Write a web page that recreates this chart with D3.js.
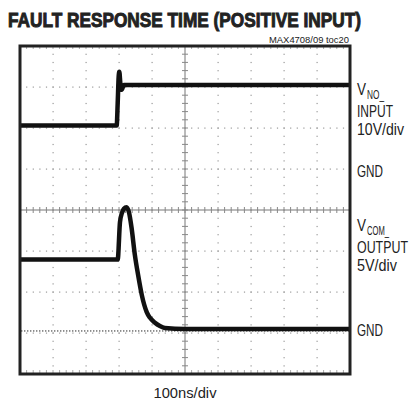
<!DOCTYPE html>
<html>
<head>
<meta charset="utf-8">
<script src="https://cdn.jsdelivr.net/npm/d3@7"></script>
<style>
  body { margin: 0; background: #fff; }
  text { font-family: "Liberation Sans", Arial, sans-serif; fill: #222; }
</style>
</head>
<body>
<div id="chart"></div>
<script>
// scope settings
var timePerDiv = 100;          // ns/div
var ch1VoltsPerDiv = 10;       // V/div
var ch2VoltsPerDiv = 5;        // V/div
var ch1Ground = 1;             // divisions from centre
var ch2Ground = -2.95;

// channel 1: V_NO_ input (time ns, volts)
var ch1Time = [0, 293, 296, 299, 301, 304, 308, 315, 1000];
var ch1Volts = [10.6, 10.6, 16, 22.5, 23.7, 21, 19.3, 20.5, 20.5];

// channel 2: V_COM_ output
var ch2Time = [0, 296, 303, 309, 315, 323, 330, 338, 348, 358, 369, 384, 394, 409, 424, 439, 500, 1000];
var ch2Volts = [8.7, 8.7, 13.3, 14.4, 14.9, 15.1, 14.5, 12.6, 9.3, 6.8, 4.4, 2.3, 1.6, 1.0, 0.6, 0.37, 0.24, 0.24];

var svgWidth = 409;
var svgHeight = 406;

var plot = { left: 20, top: 46, right: 350, bottom: 374 };

var svg = d3.select("#chart")
    .append("svg")
    .attr("width", svgWidth)
    .attr("height", svgHeight);

// scales: x in ns, y in divisions
var xScale = d3.scaleLinear().domain([0, 10 * timePerDiv]).range([plot.left, plot.right]);
var yScale = d3.scaleLinear().domain([-4, 4]).range([plot.bottom, plot.top]);

var gridGroup = svg.append("g");

// dotted grid lines (dots at each minor division)
var minorX = d3.range(0, 10 * timePerDiv + 1, timePerDiv / 5);
var minorY = d3.range(-4, 4.01, 0.2);

d3.range(1, 10).forEach(function(i) {
    if (i === 5) return;
    gridGroup.selectAll(null)
        .data(minorY)
        .enter()
        .append("rect")
        .attr("x", xScale(i * timePerDiv) - 0.5)
        .attr("y", d => yScale(d) - 0.5)
        .attr("width", 1.2)
        .attr("height", 1.2)
        .attr("fill", "#999");
});

d3.range(-3, 4).forEach(function(j) {
    if (j === 0) return;
    gridGroup.selectAll(null)
        .data(minorX)
        .enter()
        .append("rect")
        .attr("x", d => xScale(d) - 0.5)
        .attr("y", yScale(j) - 0.5)
        .attr("width", 1.2)
        .attr("height", 1.2)
        .attr("fill", "#999");
});

// centre lines with minor ticks
gridGroup.append("line")
    .attr("x1", plot.left).attr("x2", plot.right)
    .attr("y1", yScale(0)).attr("y2", yScale(0))
    .attr("stroke", "#777").attr("stroke-width", 1);

gridGroup.append("line")
    .attr("x1", xScale(5 * timePerDiv)).attr("x2", xScale(5 * timePerDiv))
    .attr("y1", plot.top).attr("y2", plot.bottom)
    .attr("stroke", "#777").attr("stroke-width", 1);

gridGroup.selectAll(null)
    .data(minorX)
    .enter()
    .append("line")
    .attr("x1", d => xScale(d)).attr("x2", d => xScale(d))
    .attr("y1", yScale(0) - 3).attr("y2", yScale(0) + 3)
    .attr("stroke", "#888").attr("stroke-width", 1);

gridGroup.selectAll(null)
    .data(minorY)
    .enter()
    .append("line")
    .attr("x1", xScale(5 * timePerDiv) - 3).attr("x2", xScale(5 * timePerDiv) + 3)
    .attr("y1", d => yScale(d)).attr("y2", d => yScale(d))
    .attr("stroke", "#888").attr("stroke-width", 1);

// minor ticks along the frame
gridGroup.selectAll(null)
    .data(minorX)
    .enter()
    .append("line")
    .attr("x1", d => xScale(d)).attr("x2", d => xScale(d))
    .attr("y1", plot.bottom - 4).attr("y2", plot.bottom)
    .attr("stroke", "#aaa");

gridGroup.selectAll(null)
    .data(minorX)
    .enter()
    .append("line")
    .attr("x1", d => xScale(d)).attr("x2", d => xScale(d))
    .attr("y1", plot.top).attr("y2", plot.top + 3)
    .attr("stroke", "#aaa");

// channel 2 ground marker
gridGroup.selectAll(null)
    .data(d3.range(0, 10 * timePerDiv, timePerDiv / 11))
    .enter()
    .append("rect")
    .attr("x", d => xScale(d) + 1)
    .attr("y", yScale(ch2Ground) - 0.7)
    .attr("width", 1.4)
    .attr("height", 1.4)
    .attr("fill", "#666");

// traces
var ch1Line = d3.line()
    .x((d, i) => xScale(ch1Time[i]))
    .y(d => yScale(d / ch1VoltsPerDiv + ch1Ground))
    .curve(d3.curveMonotoneX);

var ch2Line = d3.line()
    .x((d, i) => xScale(ch2Time[i]))
    .y(d => yScale(d / ch2VoltsPerDiv + ch2Ground))
    .curve(d3.curveMonotoneX);

svg.append("path")
    .attr("d", ch1Line(ch1Volts))
    .attr("fill", "none")
    .attr("stroke", "#111")
    .attr("stroke-width", 4.5)
    .attr("stroke-linejoin", "round");

svg.append("path")
    .attr("d", ch2Line(ch2Volts))
    .attr("fill", "none")
    .attr("stroke", "#111")
    .attr("stroke-width", 4.5)
    .attr("stroke-linejoin", "round");

// frame
svg.append("rect")
    .attr("x", plot.left)
    .attr("y", plot.top)
    .attr("width", plot.right - plot.left)
    .attr("height", plot.bottom - plot.top)
    .attr("fill", "none")
    .attr("stroke", "#222")
    .attr("stroke-width", 3);

// condensed text: smaller font stretched vertically, then fitted to width
function condensed(x, y, s, size, stretch, w, bold) {
    var t = svg.append("text")
        .attr("transform", `translate(${x}, ${y}) scale(1, ${stretch})`)
        .attr("font-size", (size / stretch) + "px")
        .attr("textLength", w)
        .attr("lengthAdjust", "spacingAndGlyphs")
        .text(s);
    if (bold) {
        t.attr("font-weight", "bold")
            .attr("stroke", "#222")
            .attr("stroke-width", 0.8);
    }
    return t;
}

// title
condensed(8, 27, "FAULT RESPONSE TIME (POSITIVE INPUT)", 20, 1.2, 353, true);

svg.append("text")
    .attr("x", 269)
    .attr("y", 43)
    .attr("font-size", "9.5px")
    .attr("textLength", 80)
    .attr("lengthAdjust", "spacingAndGlyphs")
    .text("MAX4708/09 toc20");

svg.append("text")
    .attr("x", xScale(5 * timePerDiv))
    .attr("y", 398)
    .attr("text-anchor", "middle")
    .attr("font-size", "14px")
    .attr("textLength", 63)
    .attr("lengthAdjust", "spacingAndGlyphs")
    .text("100ns/div");

// right-hand labels
var labelX = 357;
var k = 1.3;

condensed(labelX, 95, "V", 16, k, 9);
condensed(labelX + 10, 98.5, "NO_", 13, k, 17);
condensed(labelX, 116.5, "INPUT", 16, k, 36);
condensed(labelX, 135, "10V/div", 16, k, 47);
condensed(labelX, 177, "GND", 16, k, 26);

condensed(labelX, 231, "V", 16, k, 9);
condensed(labelX + 10, 234.5, "COM_", 13, k, 22);
condensed(labelX, 252.5, "OUTPUT", 16, k, 51);
condensed(labelX, 271, "5V/div", 16, k, 40);
condensed(labelX, 336, "GND", 16, k, 26);
</script>
</body>
</html>
